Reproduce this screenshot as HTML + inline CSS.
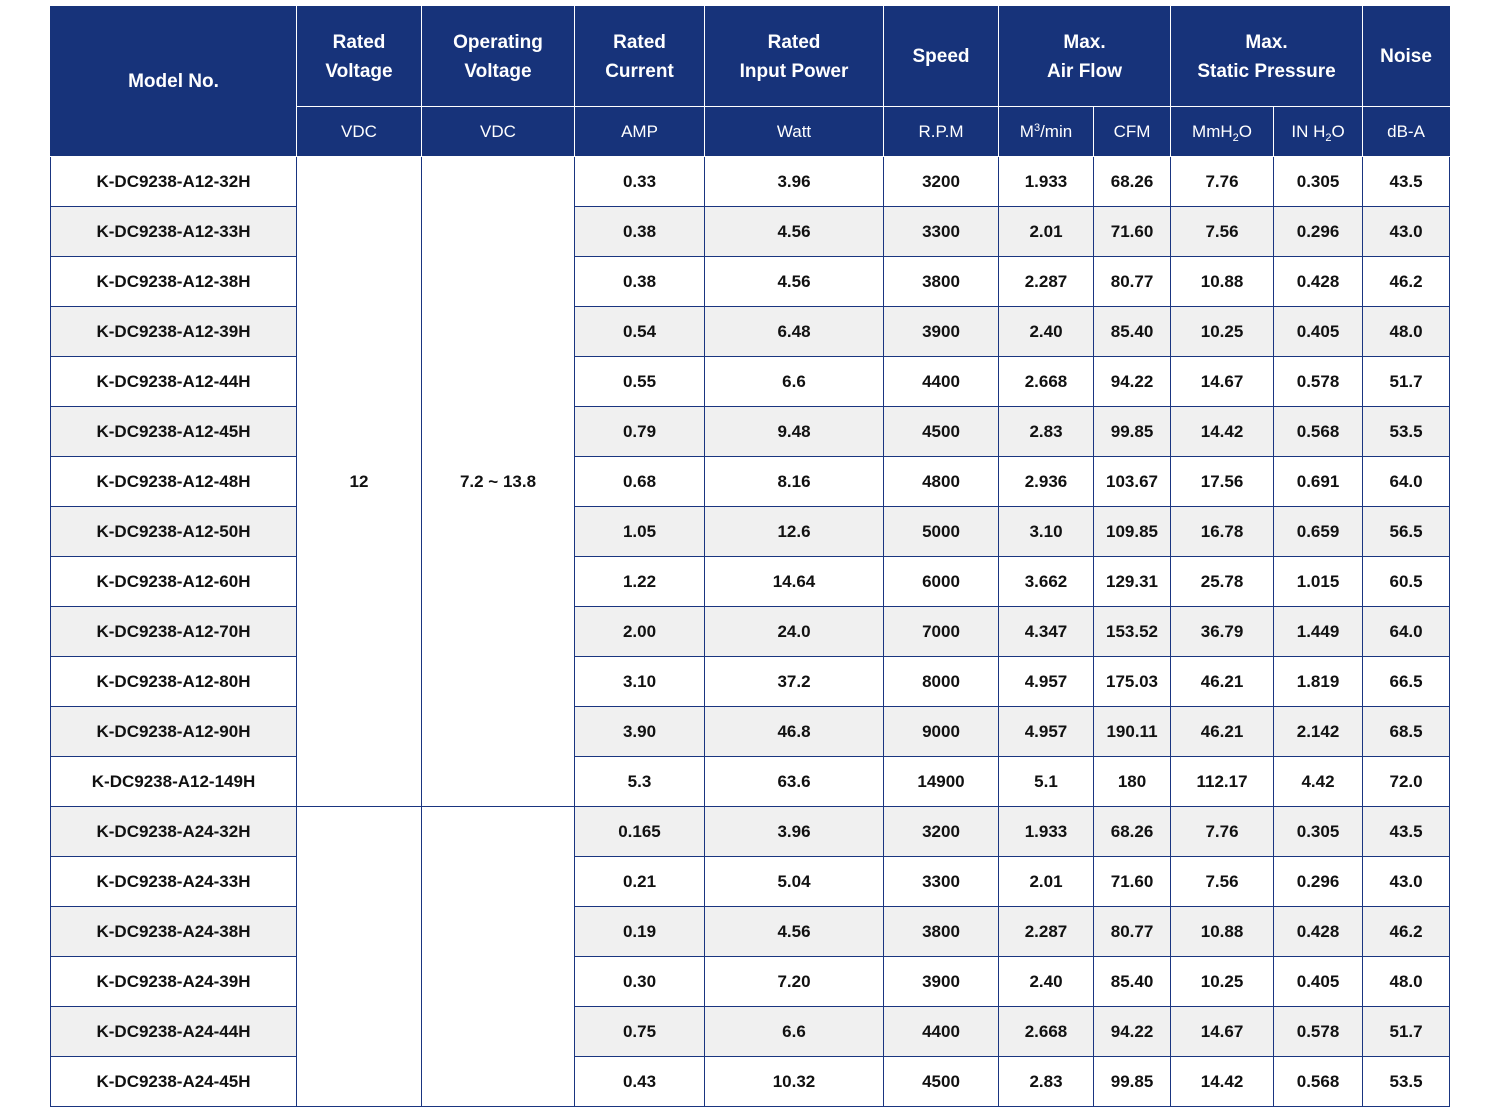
<!DOCTYPE html>
<html><head><meta charset="utf-8"><style>
body{margin:0;background:#fff;width:1500px;height:1106px;overflow:hidden;font-family:"Liberation Sans",sans-serif;}
table{position:absolute;left:50px;top:6px;border-collapse:collapse;table-layout:fixed;width:1399px;}
th{background:#17337a;color:#fff;border:1px solid #fff;text-align:center;font-weight:bold;font-size:19px;line-height:29px;padding:0;}
th.u{font-weight:normal;font-size:17px;}
td{border:1px solid #1a3580;text-align:center;font-weight:bold;font-size:17px;color:#111;padding:0;height:49px;}
tr.g td{background:#f0f0f0;}
td.w{background:#fff !important;}
tr.h1 th{height:99px;}
tr.h2 th{height:49px;}
sub{font-size:11px;vertical-align:-4px;line-height:0}
sup{font-size:11px;vertical-align:6px;line-height:0}
</style></head><body>
<table>
<colgroup><col style="width:246px"><col style="width:125px"><col style="width:153px"><col style="width:130px"><col style="width:179px"><col style="width:115px"><col style="width:95px"><col style="width:77px"><col style="width:103px"><col style="width:89px"><col style="width:87px"></colgroup>
<tr class="h1"><th rowspan="2" style="border-left-color:#17337a;border-top-color:#17337a">Model No.</th><th style="border-top-color:#17337a">Rated<br>Voltage</th><th style="border-top-color:#17337a">Operating<br>Voltage</th><th style="border-top-color:#17337a">Rated<br>Current</th><th style="border-top-color:#17337a">Rated<br>Input Power</th><th style="border-top-color:#17337a">Speed</th><th colspan="2" style="border-top-color:#17337a">Max.<br>Air Flow</th><th colspan="2" style="border-top-color:#17337a">Max.<br>Static Pressure</th><th style="border-top-color:#17337a;border-right-color:#17337a">Noise</th></tr>
<tr class="h2"><th class="u">VDC</th><th class="u">VDC</th><th class="u">AMP</th><th class="u">Watt</th><th class="u">R.P.M</th><th class="u">M<sup>3</sup>/min</th><th class="u">CFM</th><th class="u">MmH<sub>2</sub>O</th><th class="u">IN H<sub>2</sub>O</th><th class="u" style="border-right-color:#17337a">dB-A</th></tr>
<tr><td>K-DC9238-A12-32H</td><td rowspan="13" class="w">12</td><td rowspan="13" class="w">7.2 ~ 13.8</td><td>0.33</td><td>3.96</td><td>3200</td><td>1.933</td><td>68.26</td><td>7.76</td><td>0.305</td><td>43.5</td></tr>
<tr class="g"><td>K-DC9238-A12-33H</td><td>0.38</td><td>4.56</td><td>3300</td><td>2.01</td><td>71.60</td><td>7.56</td><td>0.296</td><td>43.0</td></tr>
<tr><td>K-DC9238-A12-38H</td><td>0.38</td><td>4.56</td><td>3800</td><td>2.287</td><td>80.77</td><td>10.88</td><td>0.428</td><td>46.2</td></tr>
<tr class="g"><td>K-DC9238-A12-39H</td><td>0.54</td><td>6.48</td><td>3900</td><td>2.40</td><td>85.40</td><td>10.25</td><td>0.405</td><td>48.0</td></tr>
<tr><td>K-DC9238-A12-44H</td><td>0.55</td><td>6.6</td><td>4400</td><td>2.668</td><td>94.22</td><td>14.67</td><td>0.578</td><td>51.7</td></tr>
<tr class="g"><td>K-DC9238-A12-45H</td><td>0.79</td><td>9.48</td><td>4500</td><td>2.83</td><td>99.85</td><td>14.42</td><td>0.568</td><td>53.5</td></tr>
<tr><td>K-DC9238-A12-48H</td><td>0.68</td><td>8.16</td><td>4800</td><td>2.936</td><td>103.67</td><td>17.56</td><td>0.691</td><td>64.0</td></tr>
<tr class="g"><td>K-DC9238-A12-50H</td><td>1.05</td><td>12.6</td><td>5000</td><td>3.10</td><td>109.85</td><td>16.78</td><td>0.659</td><td>56.5</td></tr>
<tr><td>K-DC9238-A12-60H</td><td>1.22</td><td>14.64</td><td>6000</td><td>3.662</td><td>129.31</td><td>25.78</td><td>1.015</td><td>60.5</td></tr>
<tr class="g"><td>K-DC9238-A12-70H</td><td>2.00</td><td>24.0</td><td>7000</td><td>4.347</td><td>153.52</td><td>36.79</td><td>1.449</td><td>64.0</td></tr>
<tr><td>K-DC9238-A12-80H</td><td>3.10</td><td>37.2</td><td>8000</td><td>4.957</td><td>175.03</td><td>46.21</td><td>1.819</td><td>66.5</td></tr>
<tr class="g"><td>K-DC9238-A12-90H</td><td>3.90</td><td>46.8</td><td>9000</td><td>4.957</td><td>190.11</td><td>46.21</td><td>2.142</td><td>68.5</td></tr>
<tr><td>K-DC9238-A12-149H</td><td>5.3</td><td>63.6</td><td>14900</td><td>5.1</td><td>180</td><td>112.17</td><td>4.42</td><td>72.0</td></tr>
<tr class="g"><td>K-DC9238-A24-32H</td><td rowspan="6" class="w"></td><td rowspan="6" class="w"></td><td>0.165</td><td>3.96</td><td>3200</td><td>1.933</td><td>68.26</td><td>7.76</td><td>0.305</td><td>43.5</td></tr>
<tr><td>K-DC9238-A24-33H</td><td>0.21</td><td>5.04</td><td>3300</td><td>2.01</td><td>71.60</td><td>7.56</td><td>0.296</td><td>43.0</td></tr>
<tr class="g"><td>K-DC9238-A24-38H</td><td>0.19</td><td>4.56</td><td>3800</td><td>2.287</td><td>80.77</td><td>10.88</td><td>0.428</td><td>46.2</td></tr>
<tr><td>K-DC9238-A24-39H</td><td>0.30</td><td>7.20</td><td>3900</td><td>2.40</td><td>85.40</td><td>10.25</td><td>0.405</td><td>48.0</td></tr>
<tr class="g"><td>K-DC9238-A24-44H</td><td>0.75</td><td>6.6</td><td>4400</td><td>2.668</td><td>94.22</td><td>14.67</td><td>0.578</td><td>51.7</td></tr>
<tr><td>K-DC9238-A24-45H</td><td>0.43</td><td>10.32</td><td>4500</td><td>2.83</td><td>99.85</td><td>14.42</td><td>0.568</td><td>53.5</td></tr>
</table>
</body></html>
